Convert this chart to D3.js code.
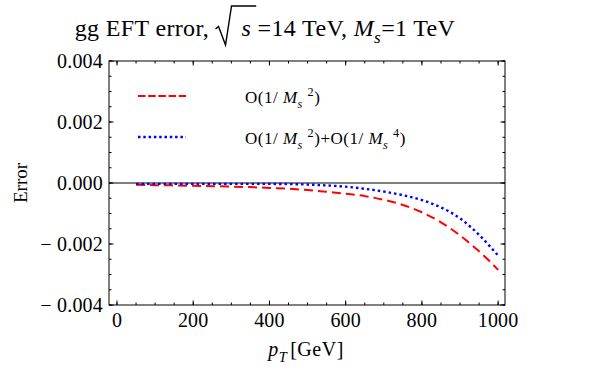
<!DOCTYPE html>
<html>
<head>
<meta charset="utf-8">
<script src="https://cdn.jsdelivr.net/npm/d3@7"></script>
<style>
  body { margin: 0; background: #fff; }
  text { font-family: "Liberation Serif", "Times New Roman", serif; fill: #000; white-space: pre; }
</style>
</head>
<body>
<div id="chart"></div>
<script>
// values
const pT = [50, 100, 200, 300, 400, 500, 550, 600, 650, 700, 750, 800, 850, 900, 925, 950, 975, 1000];
const errOrder2 = [-0.00006, -0.00007, -0.00009, -0.00012, -0.00016, -0.00023, -0.00029, -0.00035, -0.00043, -0.00055, -0.00072, -0.00096, -0.00129, -0.00172, -0.00197, -0.00224, -0.00253, -0.00285];
const errOrder4 = [-0.00003, -0.00003, -0.00003, -0.00003, -0.00003, -0.00005, -0.00008, -0.00012, -0.00019, -0.00028, -0.0004, -0.00056, -0.0008, -0.00116, -0.00141, -0.0017, -0.00203, -0.00238];
const xTicks = [0, 200, 400, 600, 800, 1000];
const xTickLabels = ["0", "200", "400", "600", "800", "1000"];
const yTicks = [-0.004, -0.002, 0, 0.002, 0.004];
const yTickLabels = ["\u2212 0.004", "\u2212 0.002", "0.000", "0.002", "0.004"];

const W = 600, H = 374;
const margin = { top: 61, right: 95, bottom: 69, left: 109 };
const width = W - margin.left - margin.right;
const height = H - margin.top - margin.bottom;

const svg = d3.select("#chart").append("svg").attr("width", W).attr("height", H);
const g = svg.append("g").attr("transform", `translate(${margin.left},${margin.top})`);

const x = d3.scaleLinear().domain([-21, 1018]).range([0, width]);
const y = d3.scaleLinear().domain([-0.004, 0.004]).range([height, 0]);

// lay out mixed text (italic, sub/superscripts) piece by piece
const rich = (parent, pieces, size, ls) => {
  const grp = parent.append("g");
  let cx = 0;
  pieces.forEach((p) => {
    if (p.gap) { cx += p.gap; return; }
    if (p.rad) { p.x0 = cx; cx += p.rad; return; }
    const fs = p.sub || p.sup ? size * 0.72 : size;
    const dy = p.sub ? size * 0.28 : p.sup ? -size * 0.42 : 0;
    const t = grp.append("text")
      .attr("x", cx).attr("y", dy)
      .attr("font-size", fs)
      .attr("letter-spacing", ls || 0)
      .attr("font-style", p.it ? "italic" : null)
      .text(p.t);
    p.x0 = cx;
    cx += t.node().getComputedTextLength();
    p.x1 = cx;
  });
  return { grp, w: cx };
};

// title
const titlePieces = [
  { t: "gg EFT error, " }, { rad: 17 }, { gap: 9 }, { t: "s", it: true }, { t: " =14 TeV, " },
  { t: "M", it: true }, { t: "s", it: true, sub: true }, { t: "=1 TeV" }
];
const title = rich(svg, titlePieces, 24, 0.35);
title.grp.attr("transform", `translate(${265 - title.w / 2},36)`);
const r = titlePieces[1], rs = titlePieces[3];
title.grp.append("path")
  .attr("d", `M${r.x0},-7 L${r.x0 + 3},-9.5 L${r.x0 + 10},9 L${r.x0 + 16},-30 L${rs.x1 + 5},-30`)
  .attr("fill", "none").attr("stroke", "#000").attr("stroke-width", 1.4);

// frame
g.append("rect").attr("width", width).attr("height", height)
  .attr("fill", "none").attr("stroke", "#000").attr("stroke-width", 1);

// ticks on all four sides, pointing inwards
const xMinor = d3.range(0, 1001, 50);
const yMinor = d3.range(-0.004, 0.00401, 0.0005);
const tick = (vals, len, side) => {
  vals.forEach((v) => {
    const l = g.append("line").attr("stroke", "#000").attr("stroke-width", 1);
    if (side === "b") l.attr("x1", x(v)).attr("x2", x(v)).attr("y1", height).attr("y2", height - len);
    if (side === "t") l.attr("x1", x(v)).attr("x2", x(v)).attr("y1", 0).attr("y2", len);
    if (side === "l") l.attr("y1", y(v)).attr("y2", y(v)).attr("x1", 0).attr("x2", len);
    if (side === "r") l.attr("y1", y(v)).attr("y2", y(v)).attr("x1", width).attr("x2", width - len);
  });
};
["b", "t"].forEach((s) => { tick(xMinor, 2.5, s); tick(xTicks, 4.5, s); });
["l", "r"].forEach((s) => { tick(yMinor, 2.5, s); tick(yTicks, 4.5, s); });

// tick labels
g.selectAll(".xl").data(xTicks).enter().append("text")
  .attr("x", (d) => x(d)).attr("y", height + 22)
  .attr("text-anchor", "middle").attr("font-size", 20).attr("letter-spacing", 0.2)
  .text((d, i) => xTickLabels[i]);
g.selectAll(".yl").data(yTicks).enter().append("text")
  .attr("x", -6).attr("y", (d) => y(d) + 7)
  .attr("text-anchor", "end").attr("font-size", 20).attr("letter-spacing", 0.2)
  .text((d, i) => yTickLabels[i]);

// zero line
g.append("line").attr("x1", 0).attr("x2", width).attr("y1", y(0)).attr("y2", y(0))
  .attr("stroke", "#000").attr("stroke-width", 1.1);

// axis labels
svg.append("text").attr("transform", `translate(27,${margin.top + y(0)}) rotate(-90)`)
  .attr("text-anchor", "middle").attr("font-size", 19).text("Error");
const xl = rich(svg, [{ t: "p", it: true }, { t: "T", it: true, sub: true }, { gap: 3 }, { t: "[GeV]" }], 20, 0.5);
xl.grp.attr("transform", `translate(${306 - xl.w / 2},356)`);

// curves
const clip = svg.append("clipPath").attr("id", "clip").append("rect")
  .attr("width", width).attr("height", height);
const line = (vals) => d3.line()
  .x((d, i) => x(pT[i]))
  .y((d) => y(d))
  .curve(d3.curveMonotoneX)(vals);
g.append("path").attr("d", line(errOrder2)).attr("clip-path", "url(#clip)")
  .attr("fill", "none").attr("stroke", "#ff0000").attr("stroke-width", 2)
  .attr("stroke-dasharray", "9,5");
g.append("path").attr("d", line(errOrder4)).attr("clip-path", "url(#clip)")
  .attr("fill", "none").attr("stroke", "#0000ff").attr("stroke-width", 2.4)
  .attr("stroke-dasharray", "2.5,3");

// legend
const legend = [
  { color: "#ff0000", dash: "7.5,2.7", w: 2, pieces: [{ t: "O(1/ " }, { t: "M", it: true }, { t: "s", it: true, sub: true }, { t: " " }, { t: "2", sup: true }, { t: ")" }] },
  { color: "#0000ff", dash: "2.5,2.8", w: 2.4, pieces: [{ t: "O(1/ " }, { t: "M", it: true }, { t: "s", it: true, sub: true }, { t: " " }, { t: "2", sup: true }, { t: ")+O(1/ " }, { t: "M", it: true }, { t: "s", it: true, sub: true }, { t: " " }, { t: "4", sup: true }, { t: ")" }] }
];
legend.forEach((d, i) => {
  const ly = 96 + i * 41;
  svg.append("line").attr("x1", 138).attr("x2", 186).attr("y1", ly).attr("y2", ly)
    .attr("stroke", d.color).attr("stroke-width", d.w).attr("stroke-dasharray", d.dash);
  const t = rich(svg, d.pieces, 17, 0.5);
  t.grp.attr("transform", `translate(245,${ly + 7})`);
});
</script>
</body>
</html>
